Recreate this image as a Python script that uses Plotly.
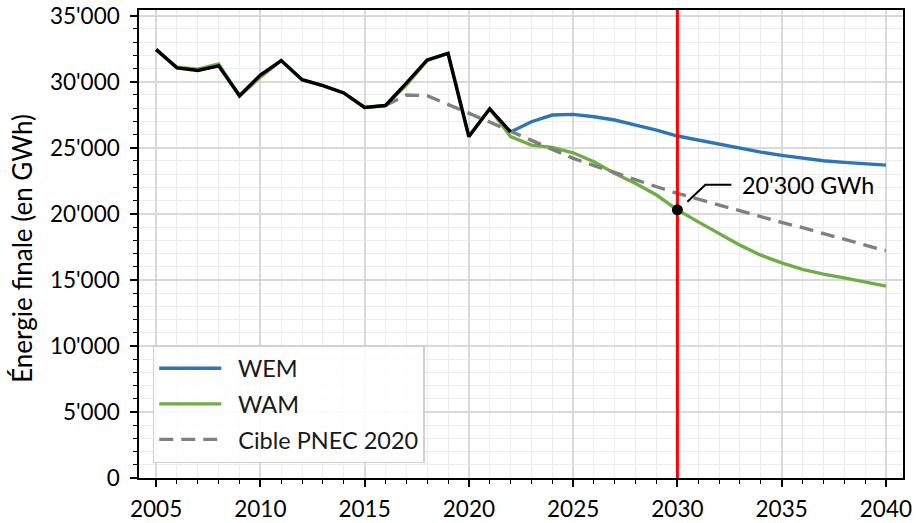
import plotly.graph_objects as go

# ---------------- data ----------------
years_hist = list(range(2005, 2023))
hist_values = [32450, 31050, 30850, 31200, 28950, 30500, 31600, 30150, 29700,
               29150, 28050, 28200, 29900, 31650, 32150, 25850, 27950, 26200]

years_wem = list(range(2022, 2041))
wem_values = [26200, 26970, 27480, 27530, 27350, 27100, 26720, 26340, 25890, 25580,
              25260, 24950, 24670, 24420, 24200, 24020, 23890, 23770, 23690]

years_wam = list(range(2005, 2041))
wam_values = [32400, 31100, 30950, 31350, 28900, 30350, 31600, 30150, 29700, 29150,
              28050, 28200, 29750, 31600, 32150, 25850, 27950, 25850, 25200, 25030,
              24620, 23940, 23050, 22300, 21420, 20300, 19390, 18520, 17630, 16870,
              16290, 15800, 15430, 15150, 14830, 14520]

years_pnec = list(range(2016, 2041))
pnec_values = [28200, 29000, 28950, 28300, 27600, 26950, 26250, 25550, 24850, 24200,
               23650, 23100, 22600, 22050, 21550, 21100, 20650, 20200, 19800, 19350,
               18950, 18500, 18100, 17650, 17200]

series_names = ["WEM", "WAM", "Cible PNEC 2020"]

target_year = 2030
target_value = 20300
target_label = "20'300 GWh"

x_tickvals = [2005, 2010, 2015, 2020, 2025, 2030, 2035, 2040]
y_tickvals = [0, 5000, 10000, 15000, 20000, 25000, 30000, 35000]
y_ticktext = ["0", "5'000", "10'000", "15'000", "20'000", "25'000", "30'000", "35'000"]

y_max = 35430
x_range = [2004.18, 2040.82]

FONT = "Lato"
BLUE = "#2e75b6"
GREEN = "#70ad47"
GRAY = "#808080"
PAD = "\u00a0\u00a0"   # small gap between legend line and label
LW = 3.4

fig = go.Figure()

fig.add_trace(go.Scatter(x=years_wem, y=wem_values, mode="lines", name=PAD + series_names[0],
                         line=dict(color=BLUE, width=LW), legendgroup="a"))
fig.add_trace(go.Scatter(x=years_wam, y=wam_values, mode="lines", name=PAD + series_names[1],
                         line=dict(color=GREEN, width=LW), legendgroup="b"))
fig.add_trace(go.Scatter(x=years_pnec, y=pnec_values, mode="lines", name=PAD + series_names[2],
                         line=dict(color=GRAY, width=LW, dash="14px,8px"), legendgroup="c"))
fig.add_trace(go.Scatter(x=years_hist, y=hist_values, mode="lines", showlegend=False,
                         line=dict(color="black", width=LW)))
fig.add_trace(go.Scatter(x=[target_year, target_year], y=[0, y_max], mode="lines",
                         showlegend=False, line=dict(color="#ff0000", width=3)))
fig.add_trace(go.Scatter(x=[target_year], y=[target_value], mode="markers",
                         showlegend=False, marker=dict(color="black", size=11)))

# leader line (pixel offsets relative to the target point)
fig.add_shape(type="path", xref="x", yref="y", xsizemode="pixel", ysizemode="pixel",
              xanchor=target_year, yanchor=target_value,
              path="M 10,8 L 28,25 L 54,25",
              line=dict(color="black", width=2))
fig.add_annotation(x=target_year, y=target_value, text=target_label, showarrow=False,
                   xanchor="left", yanchor="middle", xshift=63, yshift=25,
                   font=dict(family=FONT, size=23.3, color="black"))

# y axis title
fig.add_annotation(xref="paper", yref="paper", x=-0.153, y=0.49, text="Énergie finale (en GWh)",
                   textangle=-90, showarrow=False, xanchor="center", yanchor="middle",
                   font=dict(family=FONT, size=26, color="black"))

axis_common = dict(showline=True, linecolor="black", linewidth=1.5, mirror=True,
                   ticks="outside", ticklen=7, tickwidth=1.5, tickcolor="black",
                   showgrid=True, gridcolor="#d9d9d9", gridwidth=1.5, zeroline=False,
                   tickfont=dict(family=FONT, size=22.5, color="black"))

fig.update_xaxes(range=x_range, tickvals=x_tickvals, ticklabelstandoff=3,
                 minor=dict(dtick=1, tick0=2005, ticks="outside", ticklen=4, tickwidth=1.2,
                            tickcolor="black", showgrid=True, gridcolor="#ececec", gridwidth=1),
                 **axis_common)
fig.update_yaxes(range=[0, y_max], tickvals=y_tickvals, ticktext=y_ticktext, ticklabelstandoff=6,
                 minor=dict(dtick=1000, tick0=0, ticks="outside", ticklen=4, tickwidth=1.2,
                            tickcolor="black", showgrid=True, gridcolor="#ececec", gridwidth=1),
                 **axis_common)

fig.update_layout(
    width=917, height=523,
    margin=dict(l=139, r=14, t=10, b=45, autoexpand=False),
    plot_bgcolor="white", paper_bgcolor="white",
    font=dict(family=FONT, size=22, color="black"),
    legend=dict(x=0.018, y=0.032, xanchor="left", yanchor="bottom",
                bgcolor="rgba(255,255,255,0.85)", bordercolor="#d0d0d0", borderwidth=1.5,
                font=dict(family=FONT, size=23.5, color="#1a1a1a"),
                traceorder="grouped", tracegroupgap=2, itemwidth=62),
    showlegend=True,
)

# remove the browser's default 8px body margin so the figure fills the window exactly
fig.write_html("out.html", config={"displayModeBar": False},
               post_script="document.body.style.margin='0px';")
